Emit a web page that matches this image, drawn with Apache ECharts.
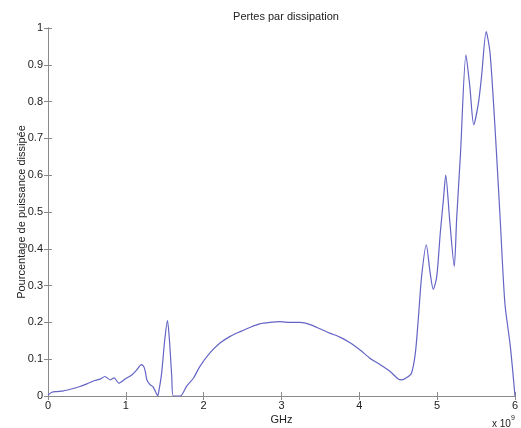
<!DOCTYPE html>
<html>
<head>
<meta charset="utf-8">
<script src="https://cdn.jsdelivr.net/npm/echarts@6/dist/echarts.min.js"></script>
<style>
html,body{margin:0;padding:0;background:#fff;}
#chart{width:521px;height:428px;}
</style>
</head>
<body>
<div id="chart"></div>
<script>
// Frequency (GHz) and dissipated power fraction
const freqGHz = [0.00,0.05,0.10,0.20,0.30,0.40,0.50,0.60,0.67,0.73,0.80,0.85,0.91,0.99,1.08,1.14,1.20,1.23,1.25,1.27,1.31,1.345,1.40,1.41,1.43,1.46,1.50,1.535,1.56,1.59,1.61,1.70,1.78,1.87,1.95,2.08,2.21,2.34,2.47,2.60,2.72,2.85,2.98,3.11,3.24,3.37,3.50,3.62,3.75,3.88,4.01,4.14,4.27,4.40,4.50,4.55,4.61,4.67,4.72,4.76,4.80,4.86,4.91,4.95,4.995,5.04,5.08,5.11,5.16,5.22,5.25,5.30,5.37,5.42,5.47,5.53,5.57,5.63,5.68,5.75,5.81,5.87,5.94,6.00];
const pertes = [0.003,0.010,0.012,0.014,0.019,0.025,0.033,0.042,0.046,0.053,0.044,0.049,0.035,0.046,0.058,0.071,0.085,0.080,0.067,0.044,0.031,0.026,0.004,0.000,0.020,0.062,0.153,0.205,0.153,0.053,0.000,0.000,0.026,0.049,0.080,0.117,0.144,0.162,0.175,0.187,0.196,0.200,0.202,0.200,0.200,0.194,0.182,0.171,0.160,0.145,0.125,0.102,0.085,0.066,0.046,0.044,0.050,0.062,0.117,0.216,0.325,0.411,0.334,0.290,0.325,0.443,0.533,0.600,0.480,0.352,0.480,0.660,0.927,0.840,0.737,0.796,0.868,0.990,0.931,0.705,0.479,0.252,0.135,0.000];
const xTicks = [0,1,2,3,4,5,6];
const yTicks = [0,0.1,0.2,0.3,0.4,0.5,0.6,0.7,0.8,0.9,1];

const title = 'Pertes par dissipation';
const xName = 'GHz';
const yName = 'Pourcentage de puissance dissipée';

const font = 'Arial, "Liberation Sans", sans-serif';
const axisCol = '#8a8a8a';
const txtCol = '#222';

function tick(){ return {show:true, inside:true, length:4, lineStyle:{color:axisCol, width:1}}; }

const chart = echarts.init(document.getElementById('chart'), null, {renderer:'canvas'});
chart.setOption({
  animation:false,
  backgroundColor:'#fff',
  title:{text:title, left:281, textAlign:'center', top:6,
    textStyle:{fontFamily:font, fontSize:11, fontWeight:'normal', color:txtCol}},
  grid:{left:48, right:6, top:28, bottom:32, containLabel:false, outerBoundsMode:'none'},
  xAxis:[{
    type:'value', min:xTicks[0], max:xTicks[xTicks.length-1], interval:1,
    name:xName, nameLocation:'middle', nameGap:18, nameMoveOverlap:false,
    nameTextStyle:{fontFamily:font, fontSize:11, color:txtCol},
    axisLine:{show:true, lineStyle:{color:axisCol}},
    axisTick:tick(),
    axisLabel:{fontFamily:font, fontSize:11, color:txtCol, margin:4},
    splitLine:{show:false}
  },{
    type:'value', position:'top', min:xTicks[0], max:xTicks[xTicks.length-1], interval:1,
    axisLine:{show:true, lineStyle:{color:axisCol}},
    axisTick:tick(), axisLabel:{show:false}, splitLine:{show:false}
  }],
  yAxis:[{
    type:'value', min:yTicks[0], max:yTicks[yTicks.length-1], interval:0.1,
    name:yName, nameLocation:'middle', nameGap:21, nameMoveOverlap:false,
    nameTextStyle:{fontFamily:font, fontSize:11, color:txtCol},
    axisLine:{show:true, lineStyle:{color:axisCol}},
    axisTick:tick(),
    axisLabel:{fontFamily:font, fontSize:11, color:txtCol, margin:5,
      formatter:v=>{const r=Math.round(v*10)/10; return (r===0||r===1)?String(r):r.toFixed(1);}},
    splitLine:{show:false}
  },{
    type:'value', position:'right', min:yTicks[0], max:yTicks[yTicks.length-1], interval:0.1,
    axisLine:{show:true, lineStyle:{color:axisCol}},
    axisTick:tick(), axisLabel:{show:false}, splitLine:{show:false}
  }],
  graphic:[{
    type:'text', left:492, top:419,
    style:{text:'x 10', font:'10px '+font, fill:txtCol}
  },{
    type:'text', left:511, top:415,
    style:{text:'9', font:'7px '+font, fill:txtCol}
  }],
  series:[{
    type:'line', xAxisIndex:0, yAxisIndex:0,
    data:freqGHz.map((f,i)=>[f,pertes[i]]),
    showSymbol:false, smooth:0.25,
    lineStyle:{color:'#6464c6', width:1.2}
  }]
});
</script>
</body>
</html>
